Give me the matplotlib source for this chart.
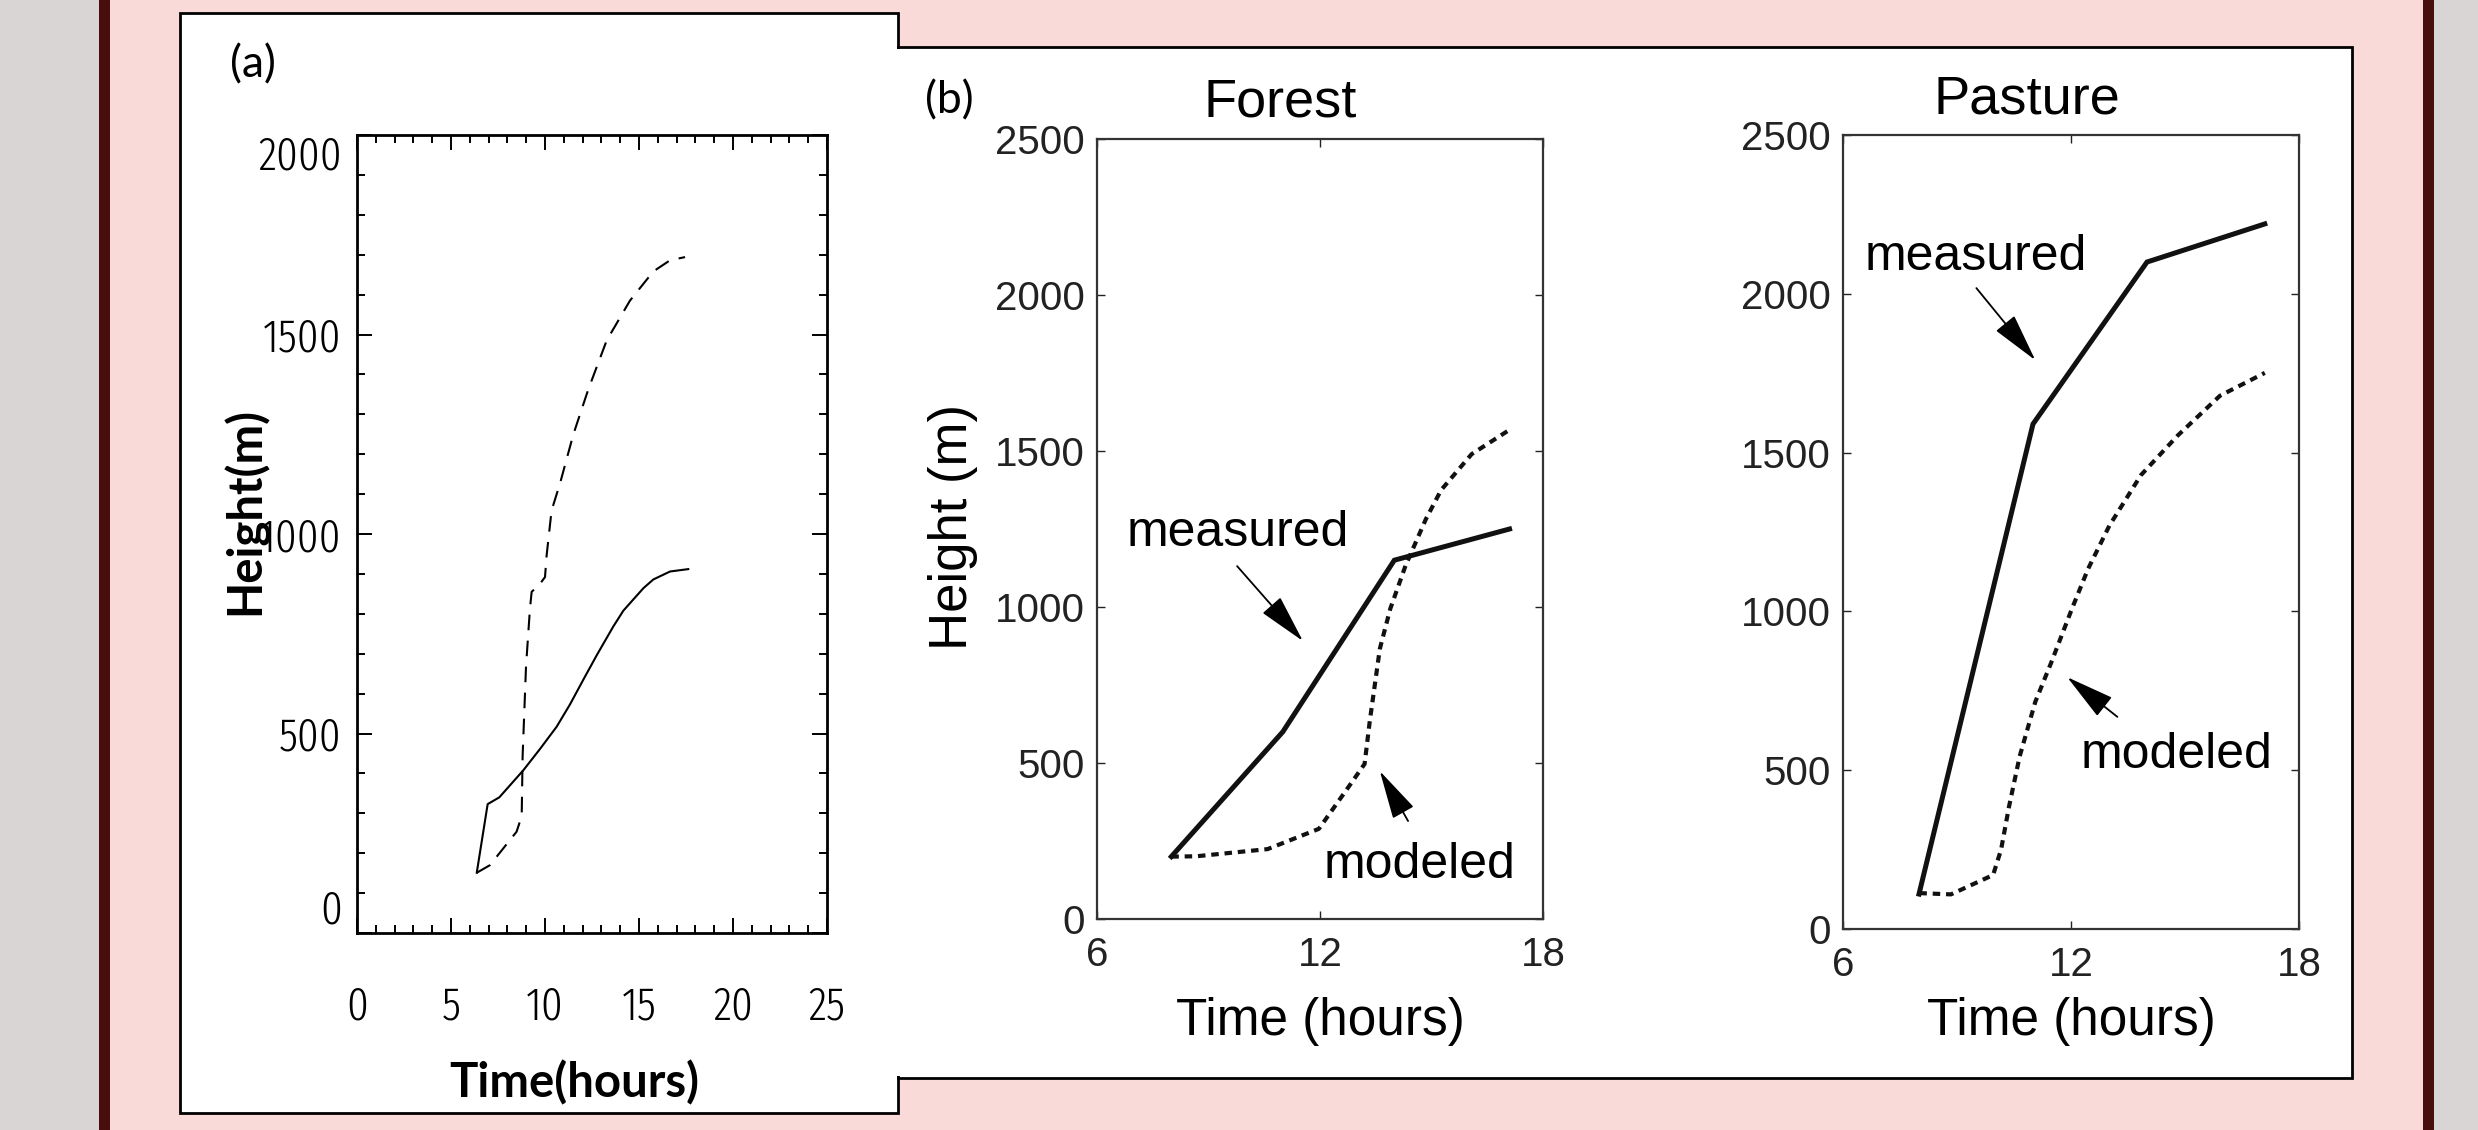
import matplotlib.pyplot as plt
from matplotlib import font_manager
from matplotlib.font_manager import FontProperties
from matplotlib.patches import Rectangle
from matplotlib.ticker import MultipleLocator

W, H = 2478, 1130

# (a) model curves
a_solid_t = [6.37, 6.95, 7.57, 8.85, 9.73, 10.62, 11.33, 12.04, 12.75, 13.63, 14.17, 14.70,
             15.23, 15.76, 16.65, 17.62]
a_solid_h = [151, 323, 340, 408, 461, 517, 573, 635, 696, 768, 808, 836,
             864, 886, 906, 912]
a_dash_t = [6.37, 7.07, 8.49, 8.76, 8.81, 8.99, 9.20, 9.29, 9.73, 10.0, 10.09, 10.35,
            10.80, 11.51, 12.3, 13.28, 14.52, 15.76, 16.65, 17.45]
a_dash_h = [151, 170, 254, 293, 444, 668, 813, 855, 875, 892, 948, 1059,
            1127, 1250, 1362, 1485, 1585, 1658, 1686, 1694]

# (b) forest
f_meas_t = [8, 11, 14, 17.1]
f_meas_h = [200, 600, 1150, 1250]
f_mod_t = [8, 8.67, 10.59, 11.97, 12.79, 13.2, 13.34, 13.61, 13.89, 14.30, 14.85, 15.26, 16.08, 17.14]
f_mod_h = [200, 201, 224, 289, 427, 497, 635, 866, 994, 1132, 1282, 1375, 1490, 1571]

# (b) pasture
p_meas_t = [8, 11, 14, 17.1]
p_meas_h = [110, 1590, 2100, 2220]
p_mod_t = [8.01, 8.84, 9.95, 10.16, 10.37, 10.65, 11.06, 11.48, 12.03, 12.45, 13.01, 13.84, 14.81, 15.92, 17.10]
p_mod_h = [113, 109, 170, 250, 386, 544, 715, 839, 1010, 1134, 1270, 1429, 1554, 1679, 1751]

a_xticks = [0, 5, 10, 15, 20, 25]
a_yticks = [0, 500, 1000, 1500, 2000]
b_xticks = [6, 12, 18]
b_yticks = [0, 500, 1000, 1500, 2000, 2500]


def box(x0, y0, x1, y1):
    # pixel box (top-left origin) -> figure fraction rect
    return [x0 / W, 1 - y1 / H, (x1 - x0) / W, (y1 - y0) / H]


fig = plt.figure(figsize=(W / 100, H / 100), dpi=100, facecolor='#d9d5d5')

def rect(x0, y0, x1, y1, fc, ec='none', lw=0, z=-10):
    l, b, w, h = box(x0, y0, x1, y1)
    fig.add_artist(Rectangle((l, b), w, h, transform=fig.transFigure,
                             facecolor=fc, edgecolor=ec, linewidth=lw, zorder=z))

rect(110, -5, 2423, 1140, '#fadad8')
rect(99, -5, 110, 1140, '#480e0e')
rect(2423, -5, 2434, 1140, '#480e0e')
rect(180, 13, 898, 1113, 'white', 'black', 2, -9)
rect(898, 47, 2352, 1078, 'white', 'black', 2, -9)
rect(894, 49, 902, 1076, 'white', z=-8)

# narrow font for the IDL-style tick labels of (a), whatever condensed sans is installed
cands = [f for f in font_manager.fontManager.ttflist
         if f.stretch == 'condensed' and f.style == 'normal'
         and 'mono' not in f.name.lower() and 'serif' not in f.name.lower()]
cands.sort(key=lambda f: (0 if 'extracondensed' in f.fname.lower().replace('-', '').replace(' ', '') else 1,
                          abs(int(f.weight) - 350) if str(f.weight).isdigit() else 100))
if cands:
    narrow = FontProperties(fname=cands[0].fname)
else:
    narrow = FontProperties(family='DejaVu Sans')
rend = fig.canvas.get_renderer()
probe = fig.text(0, 0, '2000', fontproperties=narrow, fontsize=40)
wpx = probe.get_window_extent(rend).width
probe.remove()
narrow.set_size(min(46, 40 * 84 / wpx))

# ---------------- panel (a)
ax = fig.add_axes(box(357, 135, 827, 933))
ax.plot(a_solid_t, a_solid_h, 'k-', lw=1.5)
ax.plot(a_dash_t, a_dash_h, 'k', lw=1.5, linestyle=(0, (7.5, 5)))
ax.set_xlim(0, 25)
ax.set_ylim(0, 2000)
ax.set_xticks(a_xticks)
ax.set_yticks(a_yticks)
ax.xaxis.set_minor_locator(MultipleLocator(1))
ax.yaxis.set_minor_locator(MultipleLocator(100))
ax.tick_params(which='both', direction='in', top=True, right=True, width=1.4)
ax.tick_params(which='major', length=10.5)
ax.tick_params(which='minor', length=5.5)
ax.tick_params(axis='x', pad=37)
ax.tick_params(axis='y', pad=11)
for lab in ax.get_xticklabels() + ax.get_yticklabels():
    lab.set_fontproperties(narrow)
ax.yaxis.get_major_ticks()[0].label1.set_va('bottom')
ax.yaxis.get_major_ticks()[-1].label1.set_va('top')
for s in ax.spines.values():
    s.set_linewidth(2)
fig.text(245 / W, 1 - 511 / H, 'Height(m)', rotation=90, ha='center', va='center',
         family='Lato', weight='bold', fontsize=34)
fig.text(574 / W, 1 - 1083 / H, 'Time(hours)', ha='center', va='center',
         family='Lato', weight='bold', fontsize=34)
fig.text(253 / W, 1 - 65 / H, '(a)', ha='center', va='center', family='Lato', fontsize=32)
fig.text(949 / W, 1 - 101 / H, '(b)', ha='center', va='center', family='Lato', fontsize=32)

# ---------------- panel (b)
helv = 'Liberation Sans'
arrow = dict(arrowstyle='-|>,head_length=1.1,head_width=0.27', lw=1.3, color='black',
             mutation_scale=28, shrinkA=0, shrinkB=0)


def panel_b(pos, meas_t, meas_h, mod_t, mod_h, title, tx, ty, xly):
    a = fig.add_axes(box(*pos))
    a.plot(meas_t, meas_h, color='#111111', lw=3.6, solid_joinstyle='miter')
    a.plot(mod_t, mod_h, color='#111111', lw=3.0, linestyle=(0, (1.8, 1.4)))
    a.set_xlim(6, 18)
    a.set_ylim(0, 2500)
    a.set_xticks(b_xticks)
    a.set_yticks(b_yticks)
    a.tick_params(direction='in', length=6, width=1, top=True, right=True,
                  labelsize=29, colors='#222222')
    a.tick_params(axis='x', pad=12)
    a.tick_params(axis='y', pad=9)
    for lab in a.get_xticklabels() + a.get_yticklabels():
        lab.set_family(helv)
    for s in a.spines.values():
        s.set_linewidth(1.6)
        s.set_color('#333333')
    a.set_xlabel('Time (hours)', family=helv, fontsize=37)
    a.xaxis.set_label_coords(0.5, xly)
    a.xaxis.label.set_va('center')
    a.text(tx, ty, title, transform=a.transAxes, ha='center', va='center',
           family=helv, fontsize=39)
    return a


axf = panel_b((1097, 139, 1543, 919), f_meas_t, f_meas_h, f_mod_t, f_mod_h,
              'Forest', 0.41, 1.047, -0.131)
axf.set_ylabel('Height (m)', family=helv, fontsize=38)
axf.yaxis.set_label_coords(-0.322, 0.503)
axf.yaxis.label.set_va('center')
axf.annotate('', xy=(11.54, 891), xytext=(9.77, 1131), arrowprops=arrow)
axf.text(9.79, 1237, 'measured', ha='center', va='center', family=helv, fontsize=36)
axf.annotate('', xy=(13.61, 474), xytext=(14.37, 314), arrowprops=arrow)
axf.text(14.69, 173, 'modeled', ha='center', va='center', family=helv, fontsize=36)

axp = panel_b((1843, 135, 2299, 929), p_meas_t, p_meas_h, p_mod_t, p_mod_h,
              'Pasture', 0.404, 1.045, -0.116)
axp.annotate('', xy=(11.06, 1791), xytext=(9.51, 2018), arrowprops=arrow)
axp.text(9.49, 2115, 'measured', ha='center', va='center', family=helv, fontsize=36)
axp.annotate('', xy=(11.90, 793), xytext=(13.22, 668), arrowprops=arrow)
axp.text(14.77, 548, 'modeled', ha='center', va='center', family=helv, fontsize=36)

fig.savefig('out.png', dpi=100, facecolor=fig.get_facecolor())
